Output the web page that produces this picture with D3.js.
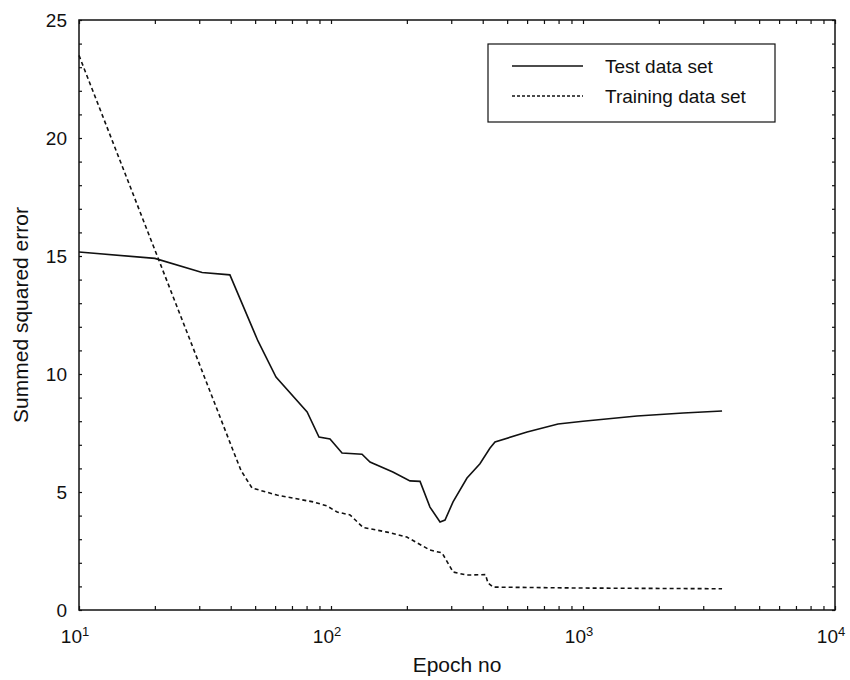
<!DOCTYPE html>
<html>
<head>
<meta charset="utf-8">
<script src="https://cdn.jsdelivr.net/npm/d3@7"></script>
<style>
  body { margin: 0; background: #fff; }
  text { font-family: "Liberation Sans", Arial, sans-serif; fill: #111; }
</style>
</head>
<body>
<div id="container"></div>
<script>
// values
const testEpochs = [10, 20, 30.8, 39.7, 51.3, 60.5, 80.4, 89.6, 99.1, 110.6, 132.8, 142.8, 176, 205.8, 225.6, 247, 270.8, 283.4, 305, 346.5, 390, 427, 447.5, 600, 796, 1000, 1637, 2500, 3563];
const testErrors = [15.17, 14.9, 14.3, 14.2, 11.4, 9.87, 8.39, 7.33, 7.25, 6.65, 6.6, 6.27, 5.85, 5.47, 5.45, 4.36, 3.73, 3.81, 4.58, 5.59, 6.2, 6.85, 7.12, 7.54, 7.88, 8.0, 8.22, 8.35, 8.43];

const trainEpochs = [10, 40.8, 44, 48.6, 61, 85, 96.4, 105.8, 119, 134, 167, 200, 247, 276, 305, 345, 410, 420, 440, 1000, 3563];
const trainErrors = [23.5, 6.78, 5.9, 5.17, 4.87, 4.58, 4.41, 4.15, 4.03, 3.5, 3.3, 3.09, 2.54, 2.42, 1.61, 1.48, 1.5, 1.14, 0.97, 0.93, 0.9];

const xMajor = [10, 100, 1000, 10000];
const yTicks = [0, 5, 10, 15, 20, 25];
const seriesNames = ["Test data set", "Training data set"];

const W = 850, H = 680;
const margin = {top: 20, right: 15, bottom: 70, left: 79};

const svg = d3.select("#container")
  .append("svg")
  .attr("width", W)
  .attr("height", H);

const x = d3.scaleLog()
  .domain([10, 10000])
  .range([margin.left, W - margin.right]);

const y = d3.scaleLinear()
  .domain([0, 25])
  .range([H - margin.bottom, margin.top]);

// frame
svg.append("rect")
  .attr("x", x(10))
  .attr("y", y(25))
  .attr("width", x(10000) - x(10))
  .attr("height", y(0) - y(25))
  .attr("fill", "none")
  .attr("stroke", "#111")
  .attr("stroke-width", 1.5);

// inward ticks on all four sides
const minorX = x.ticks();
const minorY = d3.range(0, 26, 1);

const axes = [
  [d3.axisBottom(x).tickValues(minorX).tickSize(-4), `translate(0,${y(0)})`],
  [d3.axisTop(x).tickValues(minorX).tickSize(-4), `translate(0,${y(25)})`],
  [d3.axisLeft(y).tickValues(minorY).tickSize(-3), `translate(${x(10)},0)`],
  [d3.axisRight(y).tickValues(minorY).tickSize(-3), `translate(${x(10000)},0)`]
];
axes.forEach(([ax, tr]) => {
  const g = svg.append("g")
    .attr("transform", tr)
    .call(ax.tickFormat(""));
  g.select(".domain").remove();
  g.selectAll(".tick line").attr("stroke", "#111").attr("stroke-width", 1.2);
});

// y tick labels
svg.append("g")
  .selectAll("text")
  .data(yTicks)
  .join("text")
  .attr("x", x(10) - 12)
  .attr("y", d => y(d))
  .attr("dy", "0.35em")
  .attr("text-anchor", "end")
  .style("font-size", "19px")
  .text(d => d);

// x tick labels as 10^n
const xl = svg.append("g")
  .selectAll("text")
  .data(xMajor)
  .join("text")
  .attr("x", d => x(d) - 4)
  .attr("y", y(0) + 33)
  .attr("text-anchor", "middle")
  .style("font-size", "19px");
xl.append("tspan").text("10");
xl.append("tspan")
  .attr("dy", "-0.55em")
  .style("font-size", "13px")
  .text(d => Math.round(Math.log10(d)));

// axis titles
svg.append("text")
  .attr("x", (x(10) + x(10000)) / 2)
  .attr("y", H - 8)
  .attr("text-anchor", "middle")
  .style("font-size", "21px")
  .text("Epoch no");

svg.append("text")
  .attr("transform", `translate(28,${(y(0) + y(25)) / 2}) rotate(-90)`)
  .attr("text-anchor", "middle")
  .style("font-size", "21px")
  .text("Summed squared error");

// lines
const line = d3.line()
  .x(d => x(d[0]))
  .y(d => y(d[1]));

svg.append("path")
  .datum(d3.zip(testEpochs, testErrors))
  .attr("fill", "none")
  .attr("stroke", "#111")
  .attr("stroke-width", 1.6)
  .attr("d", line);

svg.append("path")
  .datum(d3.zip(trainEpochs, trainErrors))
  .attr("fill", "none")
  .attr("stroke", "#111")
  .attr("stroke-width", 1.6)
  .attr("stroke-dasharray", "4,3")
  .attr("d", line);

// legend
const legend = svg.append("g").attr("transform", "translate(488,44)");
legend.append("rect")
  .attr("width", 287)
  .attr("height", 78)
  .attr("fill", "#fff")
  .attr("stroke", "#111")
  .attr("stroke-width", 1.2);

seriesNames.forEach((name, i) => {
  const ly = 22 + i * 30;
  legend.append("line")
    .attr("x1", 24).attr("x2", 95)
    .attr("y1", ly).attr("y2", ly)
    .attr("stroke", "#111")
    .attr("stroke-width", 1.3)
    .attr("stroke-dasharray", i === 1 ? "3,2" : null);
  legend.append("text")
    .attr("x", 117)
    .attr("y", ly)
    .attr("dy", "0.35em")
    .style("font-size", "19px")
    .text(name);
});
</script>
</body>
</html>
